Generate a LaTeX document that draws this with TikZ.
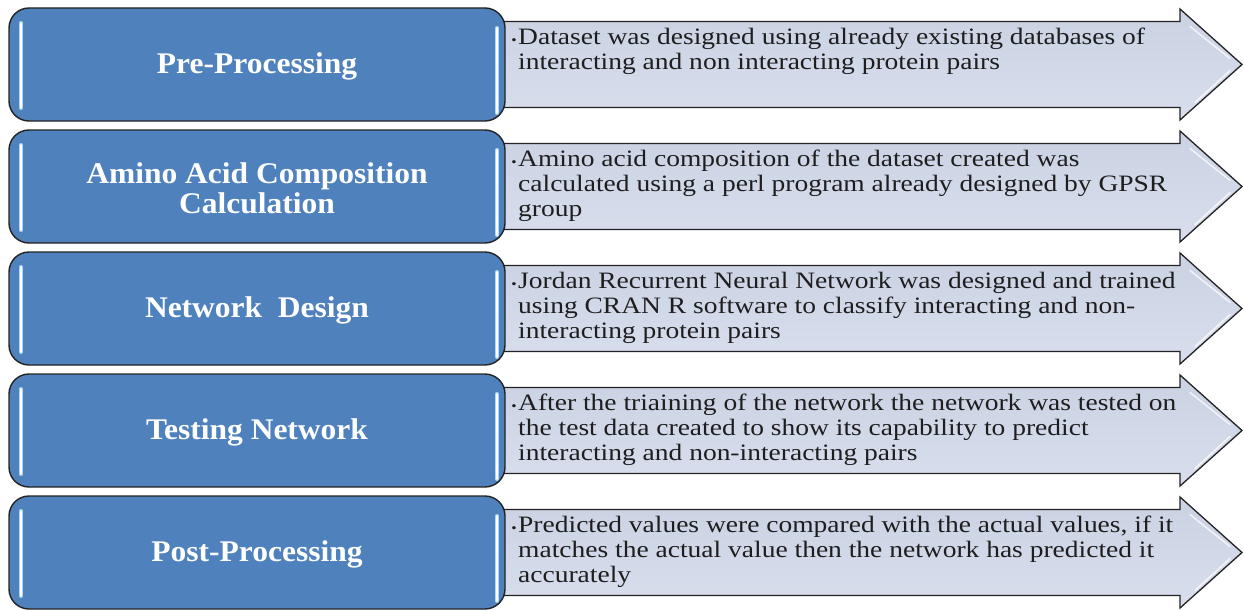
\documentclass[tikz,border=0pt]{standalone}
\usepackage{fontspec}
\setmainfont{Liberation Serif}
\newfontfamily\descfont[FakeStretch=1.17]{Liberation Serif}
\newfontfamily\labelfont[FakeStretch=1.05]{Liberation Serif}
\definecolor{boxblue}{RGB}{79,129,189}
\definecolor{arrowtop}{RGB}{202,210,227}
\definecolor{arrowbot}{RGB}{216,222,236}
\definecolor{edgecol}{RGB}{35,35,35}
\definecolor{glintblue}{RGB}{170,215,250}
\definecolor{desctext}{RGB}{30,30,30}
\tikzset{
  stagebox/.style={draw=edgecol, line width=1.4pt, fill=boxblue, rounded corners=20pt,
    minimum width=496pt, minimum height=113pt, inner sep=0pt},
  stagelabel/.style={text=white, font=\labelfont\fontsize{30}{30}\selectfont\bfseries, align=center, inner sep=0pt},
  arrowshape/.style={draw=edgecol, line width=1.3pt, top color=arrowtop, bottom color=arrowbot},
  desc/.style={anchor=north west, inner sep=0pt, align=left, font=\descfont\fontsize{23.5}{25}\selectfont, text=desctext},
  glintout/.style={draw=glintblue, line width=4pt, line cap=round},
  glintin/.style={draw=white, line width=1.6pt, line cap=round},
  headglint/.style={draw=white, line width=1.5pt, opacity=0.75, line cap=round}
}
\newcommand\stagerow[4]{%
  \pgfmathsetmacro\rowc{#2+56.5}
  \path[arrowshape] (495,\rowc-43) -- (1180,\rowc-43) -- (1180,\rowc-55.5) -- (1242,\rowc)
     -- (1180,\rowc+55.5) -- (1180,\rowc+43) -- (495,\rowc+43) -- cycle;
  \draw[headglint] (1190,\rowc-38) -- (1230,\rowc-6);
  \draw[headglint] (1230,\rowc+6) -- (1195,\rowc+38);
  \node[desc] (d#1) at (518,\rowc-37) {\llap{\fontsize{13}{13}\selectfont\textbullet\hspace{1.5pt}}#4};
  \node[stagebox] (s#1) at (257,\rowc) {};
  \node[stagelabel] (l#1) at ([yshift=-2pt]s#1.center) {#3};
  \draw[glintout] (21,#2+15) -- (21,#2+100);
  \draw[glintin] (21,#2+15) -- (21,#2+100);
  \draw[glintout] (497,#2+20) -- (497,#2+105);
  \draw[glintin] (497,#2+20) -- (497,#2+105);
}
\begin{document}
\begin{tikzpicture}[x=1pt,y=-1pt]
  \useasboundingbox (0,0) rectangle (1244,610);
  \stagerow{1}{8}{Pre-Processing}{Dataset was designed using already existing databases of\\interacting and non interacting protein pairs}
  \stagerow{2}{130}{Amino Acid Composition\\Calculation}{Amino acid composition of the dataset created was\\calculated using a perl program already designed by GPSR\\group}
  \stagerow{3}{252}{Network\ \ Design}{Jordan Recurrent Neural Network was designed and trained\\using CRAN R software to classify interacting and non-\\interacting protein pairs}
  \stagerow{4}{374}{Testing Network}{After the triaining of the network the network was tested on\\the test data created to show its capability to predict\\interacting and non-interacting pairs}
  \stagerow{5}{496}{Post-Processing}{Predicted values were compared with the actual values, if it\\matches the actual value then the network has predicted it\\accurately}
\end{tikzpicture}
\end{document}
